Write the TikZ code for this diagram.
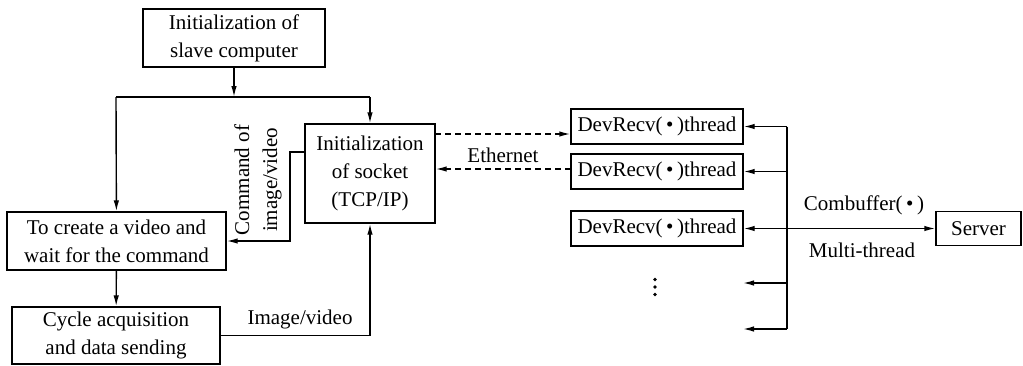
\documentclass[tikz,border=0pt]{standalone}
\usepackage{fontspec}
\setmainfont{Liberation Serif}
\usetikzlibrary{arrows.meta}
\begin{document}
\begin{tikzpicture}[x=1pt,y=-1pt,
  font=\fontsize{21}{28}\selectfont,
  box/.style={draw,line width=1.4pt,inner sep=0pt,align=center},
  conn/.style={line width=1.4pt},
  tip/.tip={Latex[length=11pt,width=5.5pt]},
  arr/.style={conn,-tip},
  dsh/.style={dash pattern=on 6pt off 4pt},
  lbl/.style={inner sep=0pt}]
\useasboundingbox (0,0) rectangle (1023,365);
% boxes
\node[box,minimum width=182pt,minimum height=58pt] (b1) at (234,38) {Initialization of\\slave computer};
\node[box,minimum width=219pt,minimum height=58pt] (b2) at (116.5,241) {To create a video and\\wait for the command};
\node[box,minimum width=208pt,minimum height=57pt] (b3) at (116,335.5) {Cycle acquisition\\and data sending};
\node[box,minimum width=130pt,minimum height=99pt] (sock) at (370,173.5) {Initialization\\of socket\\(TCP/IP)};
\node[box,minimum width=172pt,minimum height=35pt] (dA) at (657,126.5) {DevRecv(\,•\,)thread};
\node[box,minimum width=172pt,minimum height=35pt] (dB) at (657,171.5) {DevRecv(\,•\,)thread};
\node[box,minimum width=172pt,minimum height=35pt] (dC) at (657,228.5) {DevRecv(\,•\,)thread};
\node[box,minimum width=85pt,minimum height=34pt] (srv) at (978.5,228.5) {Server};
% coordinates
\coordinate (j1) at (234,97);
\coordinate (jl) at (116,97);
\coordinate (jr) at (370,97);
\coordinate (cs) at (305,152);
\coordinate (cm) at (290,152);
\coordinate (es) at (435,134);
\coordinate (er) at (571,169);
\coordinate (bt) at (787,126.5);
\coordinate (b2y) at (787,171.5);
\coordinate (bb) at (787,329);
\coordinate (b4) at (787,283);
\coordinate (e4) at (743,283);
\coordinate (e5) at (743,329);
% connectors
\draw[arr] (b1) -- (j1);
\draw[conn] (jl) -- (jr);
\draw[arr] (jl) -- (b2);
\draw[arr] (jr) -- (sock);
\draw[arr] (b2) -- (b3);
\draw[arr] (cs) -- (cm) |- (b2.east);
\draw[arr] (b3.east) -| (sock.south);
\draw[arr,dsh] (es) -- (es -| dA.west);
\draw[arr,dsh] (er) -- (er -| sock.east);
\draw[conn] (bt) -- (bb);
\draw[arr] (bt) -- (dA.east);
\draw[arr] (b2y) -- (dB.east);
\draw[conn,tip-tip] (dC.east) -- (srv.west);
\draw[arr] (b4) -- (e4);
\draw[arr] (bb) -- (e5);
% labels
\node[lbl] (leth) at (503,155) {Ethernet};
\node[lbl] (limg) at (300,319) {Image/video};
\node[lbl] (lcb) at (864,205) {Combuffer(\,•\,)};
\node[lbl] (lmt) at (862,250) {Multi-thread};
\node[lbl,rotate=90,align=center] (lcmd) at (258,180) {Command of\\image/video};
% vertical ellipsis
\foreach \yy in {279.5,287,294.5} \fill (655,\yy) circle (1.8pt);
\end{tikzpicture}
\end{document}
